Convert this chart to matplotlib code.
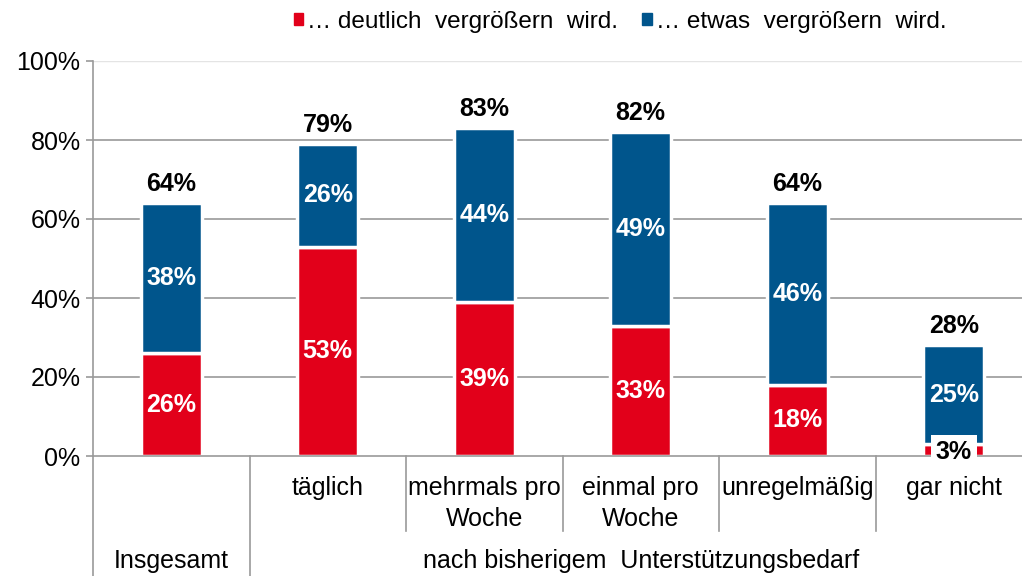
import matplotlib.pyplot as plt
from matplotlib.patches import Patch

plt.rcParams['font.family'] = ['Liberation Sans', 'DejaVu Sans']

# data
categories = ["Insgesamt", "täglich", "mehrmals pro\nWoche", "einmal pro\nWoche", "unregelmäßig", "gar nicht"]
deutlich = [26, 53, 39, 33, 18, 3]
etwas = [38, 26, 44, 49, 46, 25]
totals = [64, 79, 83, 82, 64, 28]
series_names = ["… deutlich  vergrößern  wird.", "… etwas  vergrößern  wird."]
group_labels = ["Insgesamt", "nach bisherigem  Unterstützungsbedarf"]

red = "#E2001A"
blue = "#00558C"
grid_col = "#9a9a9a"
fs = 18

fig = plt.figure(figsize=(10.22, 5.76), dpi=100)
ax = fig.add_axes([93 / 1022, 120 / 576, 939 / 1022, 395 / 576])

x = list(range(len(categories)))
ax.set_xlim(-0.5, len(categories) - 0.5)
ax.set_ylim(0, 100)

for y in [20, 40, 60, 80]:
    ax.axhline(y, color=grid_col, lw=1.2, zorder=1)
ax.axhline(100, color="#e4e4e4", lw=1.0, zorder=1)

w = 0.39
b1 = ax.bar(x, deutlich, w, color=red, edgecolor="white", linewidth=2.5, zorder=2)
b2 = ax.bar(x, etwas, w, bottom=deutlich, color=blue, edgecolor="white", linewidth=2.5, zorder=2)

for i in x:
    if deutlich[i] >= 10:
        ax.text(i, deutlich[i] / 2, f"{deutlich[i]}%", ha="center", va="center",
                color="white", fontsize=fs, fontweight="bold", zorder=3)
    else:
        ax.text(i, deutlich[i] / 2 - 0.5, f"{deutlich[i]}%", ha="center", va="center",
                color="black", fontsize=fs, fontweight="bold", zorder=3,
                bbox=dict(boxstyle="square,pad=0.2", fc="white", ec="none"))
    ax.text(i, deutlich[i] + etwas[i] / 2, f"{etwas[i]}%", ha="center", va="center",
            color="white", fontsize=fs, fontweight="bold", zorder=3)
    ax.annotate(f"{totals[i]}%", (i, deutlich[i] + etwas[i]), xytext=(0, 5),
                textcoords="offset points", ha="center", va="bottom",
                fontsize=fs, fontweight="bold", color="black")

# axes styling
for s in ["top", "right"]:
    ax.spines[s].set_visible(False)
ax.spines["left"].set_color(grid_col)
ax.spines["bottom"].set_color(grid_col)
ax.spines["left"].set_linewidth(1.2)
ax.spines["bottom"].set_linewidth(1.2)
ax.set_yticks([0, 20, 40, 60, 80, 100])
ax.set_yticklabels([f"{v}%" for v in [0, 20, 40, 60, 80, 100]], fontsize=fs)
ax.tick_params(axis="y", length=5, color=grid_col, width=1.2, pad=4)
ax.set_xticks([])

# category separators below the axis
tr = ax.get_xaxis_transform()
for sep in [-0.5, 0.5]:
    ax.plot([sep, sep], [0, -0.31], transform=tr, color=grid_col, lw=1.2, clip_on=False)
for sep in [1.5, 2.5, 3.5, 4.5]:
    ax.plot([sep, sep], [0, -0.19], transform=tr, color=grid_col, lw=1.2, clip_on=False)

for i in x[1:]:
    ax.text(i, -0.05, categories[i], transform=tr, ha="center", va="top",
            fontsize=fs, linespacing=1.4)
ax.text(0, -0.265, group_labels[0], transform=tr, ha="center", va="center", fontsize=fs)
ax.text(3, -0.265, group_labels[1], transform=tr, ha="center", va="center", fontsize=fs)

handles = [Patch(color=red), Patch(color=blue)]
fig.legend(handles, series_names, loc="center", bbox_to_anchor=(620 / 1022, 1 - 22 / 576),
           ncol=2, frameon=False, fontsize=17.5, handlelength=0.4, handleheight=0.4,
           handletextpad=0.15, columnspacing=1.0)

fig.savefig("out.png", dpi=100)
